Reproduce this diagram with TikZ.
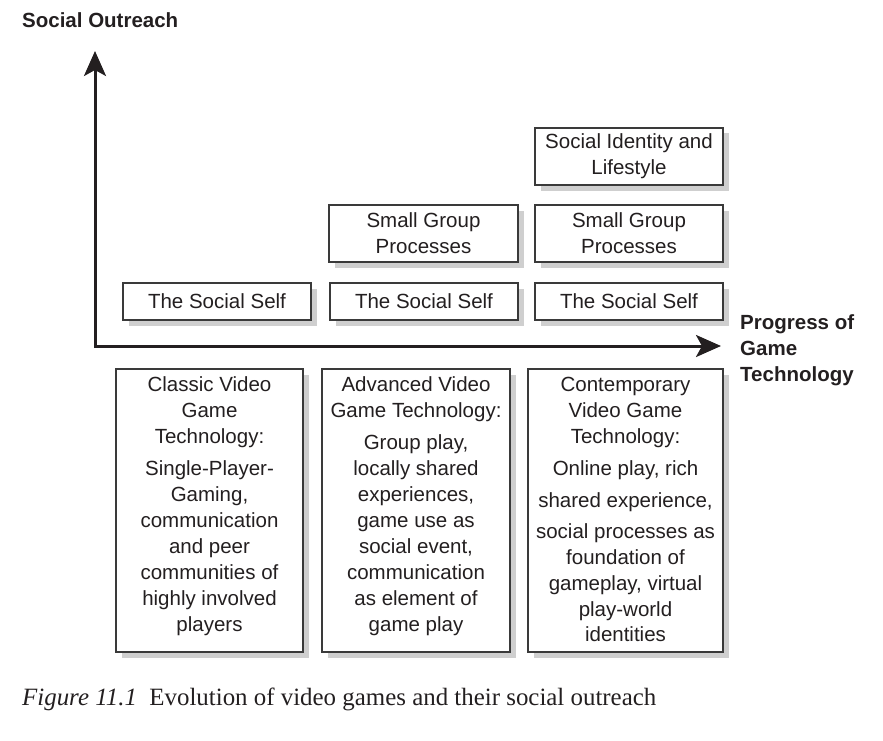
\documentclass[tikz,border=0pt]{standalone}
\usepackage{fontspec}
\setmainfont{Liberation Sans}
\newfontfamily\capfont{Liberation Serif}
\usetikzlibrary{shadows,arrows.meta}
\definecolor{ink}{HTML}{231F20}
\definecolor{edgegray}{HTML}{3A3A3A}
\definecolor{shade}{HTML}{CFCFCF}
\tikzset{
  bx/.style={draw=edgegray, line width=1.4pt, fill=white, inner sep=0pt,
    drop shadow={shadow xshift=5.5pt, shadow yshift=-5.5pt, fill=shade, opacity=1}},
  txt/.style={font=\fontsize{20.5}{26}\selectfont, text=ink, align=center, inner sep=0pt},
  bold/.style={font=\bfseries\fontsize{20.5}{26}\selectfont, text=ink, inner sep=0pt},
  axisline/.style={line width=3pt, draw=ink, line join=miter,
    {Stealth[length=25pt,width=22pt,inset=6pt]}-{Stealth[length=25pt,width=22pt,inset=6pt]}},
}
\begin{document}
\begin{tikzpicture}[x=1pt,y=-1pt]
\useasboundingbox (0,0) rectangle (883,741);
% axes
\coordinate (ytip) at (95,51);
\coordinate (origin) at (95,346);
\coordinate (xtip) at (721,346);
\draw[axisline] (ytip) -- (origin) -- (xtip);
% axis labels
\node[bold, anchor=base west] (ylab) at (22,28) {Social Outreach};
\node[bold, align=left, anchor=north west] (xlab) at (740,314) {Progress of\\Game\\Technology};
% upper boxes
\node[bx, txt, minimum width=188pt, minimum height=37pt] (selfA) at (217,301.5) {The Social Self};
\node[bx, txt, minimum width=188pt, minimum height=37pt] (selfB) at (424,301.5) {The Social Self};
\node[bx, txt, minimum width=188pt, minimum height=37pt] (selfC) at (629,301.5) {The Social Self};
\node[bx, txt, minimum width=189pt, minimum height=57pt] (groupB) at (423.5,233.5) {Small Group\\Processes};
\node[bx, txt, minimum width=188pt, minimum height=57pt] (groupC) at (629,233.5) {Small Group\\Processes};
\node[bx, txt, minimum width=188pt, minimum height=57pt] (identC) at (629,156.5) {\raisebox{-2pt}{Social Identity and}\\\raisebox{-2pt}{Lifestyle}};
% lower boxes
\node[bx, minimum width=187pt, minimum height=283pt] (b1) at (209.5,510.5) {};
\node[bx, minimum width=188pt, minimum height=283pt] (b2) at (416,510.5) {};
\node[bx, minimum width=195pt, minimum height=283pt] (b3) at (625.5,510.5) {};
\node[txt, anchor=north] (t1) at (209.5,376.5) {Classic Video\\Game\\Technology:\\[6pt]Single-Player-\\Gaming,\\communication\\and peer\\communities of\\highly involved\\players};
\node[txt, anchor=north] (t2) at (416,376.5) {Advanced Video\\Game Technology:\\[6pt]Group play,\\locally shared\\experiences,\\game use as\\social event,\\communication\\as element of\\game play};
\node[txt, anchor=north] (t3) at (625.5,376.5) {Contemporary\\Video Game\\Technology:\\[6pt]Online play, rich\\[6pt]shared experience,\\[5pt]social processes as\\foundation of\\gameplay, virtual\\play-world\\[-1pt]identities};
% caption
\node[font=\capfont\fontsize{24.9}{28}\selectfont, text=ink, anchor=base west, inner sep=0pt] (cap) at (22,705) {\textit{Figure 11.1}\hspace{0.5em}Evolution of video games and their social outreach};
\end{tikzpicture}
\end{document}
